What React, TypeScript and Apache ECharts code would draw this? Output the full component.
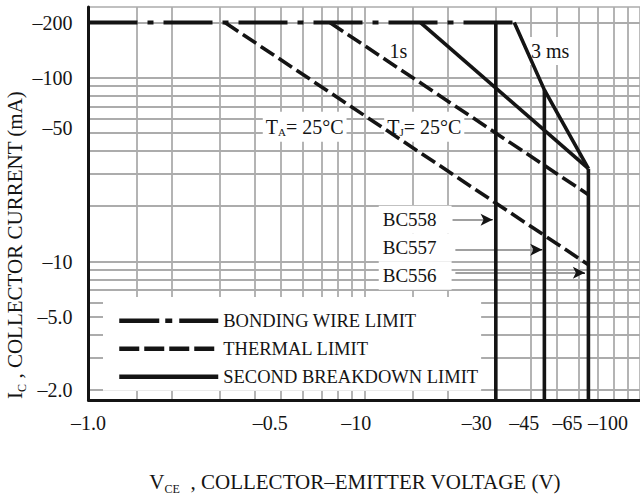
import React, { useEffect, useRef } from 'react';
import * as echarts from 'echarts';

const SERIF = '"Liberation Serif", "Times New Roman", Times, serif';
const INK = '#141414';
const GRID_GRAY = '#acacac';

// Axis extents: |V_CE| in volts, |I_C| in mA (both log scales)
const X_MIN = 1;
const X_MAX = 100;
const Y_MIN = 1.76;
const Y_MAX = 243;

const X_TICKS = [1, 5, 10, 30, 45, 65, 100];
const X_TICK_LABELS = ['–1.0', '–0.5', '–10', '–30', '–45', '–65', '–100'];
const Y_TICKS = [2, 5, 10, 50, 100, 200];
const Y_TICK_LABELS = ['–2.0', '–5.0', '–10', '–50', '–100', '–200'];

const GRID_X = [1.5, 2, 3, 4, 5, 6, 7, 8, 9, 10, 15, 20, 30, 40, 50, 60, 70, 80, 90];
const GRID_Y = [2, 3, 4, 5, 6, 7, 8, 9, 10, 20, 30, 40, 50, 60, 70, 80, 90, 100, 200];

// Limit curves, [volts, mA]
const BONDING_WIRE = [[1, 200], [35, 200]];
const THERMAL_TA = [[3.125, 200], [65, 9.6]];
const THERMAL_TJ = [[7.5, 200], [65, 23.1]];
const BREAKDOWN_1S = [[16, 200], [65, 32]];
const BREAKDOWN_3MS = [[35, 200], [45, 86], [65, 32]];
const BC558_EDGE = [[30, 200], [30, Y_MIN]];
const BC557_EDGE = [[45, 86], [45, Y_MIN]];
const BC556_EDGE = [[65, 32], [65, Y_MIN]];

// Annotation anchors, [volts, mA]
const CURVE_NOTES = [
  { text: '1s', at: [13.3, 140] },
  { text: '3 ms', at: [47.2, 140] },
  { text: '{a|T}{s|A}{a|= 25°C}', at: [6.08, 54.1] },
  { text: '{a|T}{s|J}{a|= 25°C}', at: [16.5, 54.1] },
];
const DEVICE_NAMES = ['BC558', 'BC557', 'BC556'];
const DEVICE_NAME_AT = [[15.3, 16.9], [15.3, 11.9], [15.3, 8.36]];
const DEVICE_ARROWS = [
  { from: [20.9, 16.9], to: [29.2, 16.9] },
  { from: [21.4, 11.6], to: [44.2, 11.6] },
  { from: [21.4, 8.68], to: [63.1, 8.68] },
];

const NAME_BONDING = 'BONDING WIRE LIMIT';
const NAME_THERMAL = 'THERMAL LIMIT';
const NAME_BREAKDOWN = 'SECOND BREAKDOWN LIMIT';

const DASH_DOT = [49, 10, 6, 10];
const DASHED = [16, 5.5];

// leftward nudge (px) of each x tick label
const X_LABEL_SHIFT = [0, 11, 8, 19, 20, 21, 32];

const nearestIndex = (arr: number[], v: number) => {
  let best = 0;
  let d = Infinity;
  arr.forEach((a, i) => {
    const dd = Math.abs(Math.log(a) - Math.log(v));
    if (dd < d) {
      d = dd;
      best = i;
    }
  });
  return best;
};

const limitLine = (name: string, data: number[][], type: any, width = 3.6) => ({
  type: 'line',
  name,
  data,
  symbol: 'none',
  z: 3,
  silent: true,
  emphasis: { disabled: true },
  itemStyle: { color: INK },
  lineStyle: { color: INK, width, type, cap: 'butt' },
});

export default function App() {
  const ref = useRef<HTMLDivElement>(null);

  useEffect(() => {
    document.body.style.margin = '0';
    if (!ref.current) return;
    const chart = echarts.init(ref.current, undefined, { renderer: 'svg' });

    const xRich: Record<string, any> = {};
    X_TICKS.forEach((_, i) => {
      xRich['t' + i] = {
        fontSize: 20,
        fontFamily: SERIF,
        color: INK,
        padding: [0, X_LABEL_SHIFT[i] * 2, 0, 0],
      };
    });

    const noteRich = {
      a: { fontSize: 20, fontFamily: SERIF, color: INK, lineHeight: 22 },
      s: { fontSize: 11, fontFamily: SERIF, color: INK, lineHeight: 11, verticalAlign: 'bottom' },
    };

    const titleRich = {
      a: { fontSize: 21, fontFamily: SERIF, fill: INK, lineHeight: 25 },
      s: { fontSize: 12, fontFamily: SERIF, fill: INK, lineHeight: 12, verticalAlign: 'bottom' },
    };

    const option: any = {
      animation: false,
      backgroundColor: '#ffffff',
      grid: {
        left: 88.5,
        top: 7,
        width: 555,
        height: 393.1,
        show: true,
        borderColor: GRID_GRAY,
        borderWidth: 1.6,
        backgroundColor: 'transparent',
      },
      xAxis: {
        type: 'log',
        logBase: 10,
        min: X_MIN,
        max: X_MAX,
        z: 10,
        axisLine: { show: true, onZero: false, lineStyle: { color: INK, width: 3 } },
        axisTick: { show: false },
        splitLine: { show: false },
        minorTick: { show: false },
        minorSplitLine: { show: false },
        axisLabel: {
          customValues: X_TICKS,
          margin: 13,
          formatter: (v: number) => {
            const i = nearestIndex(X_TICKS, v);
            return `{t${i}|${X_TICK_LABELS[i]}}`;
          },
          rich: xRich,
        },
      },
      yAxis: {
        type: 'log',
        logBase: 10,
        min: Y_MIN,
        max: Y_MAX,
        z: 10,
        axisLine: { show: true, onZero: false, lineStyle: { color: INK, width: 3 } },
        axisTick: { show: false },
        splitLine: { show: false },
        minorTick: { show: false },
        minorSplitLine: { show: false },
        axisLabel: {
          customValues: Y_TICKS,
          margin: 16,
          formatter: (v: number) => {
            const i = nearestIndex(Y_TICKS, v);
            return `{${Y_TICKS[i] === 50 ? 'up' : 'n'}|${Y_TICK_LABELS[i]}}`;
          },
          rich: {
            n: { fontSize: 20, fontFamily: SERIF, color: INK },
            up: { fontSize: 20, fontFamily: SERIF, color: INK, padding: [0, 0, 10, 0] },
          },
        },
      },
      legend: {
        orient: 'vertical',
        left: 103,
        top: 297,
        z: 6,
        padding: [13.7, 3, 4, 14],
        backgroundColor: '#ffffff',
        itemWidth: 99,
        itemHeight: 14,
        itemGap: 8,
        selectedMode: false,
        itemStyle: { opacity: 0 },
        lineStyle: { width: 4.5, color: INK },
        textStyle: { fontSize: 18.5, fontFamily: SERIF, color: INK, lineHeight: 20 },
        data: [
          { name: NAME_BONDING, lineStyle: { width: 4.5, color: INK, type: [40, 6, 7, 7] } },
          { name: NAME_THERMAL, lineStyle: { width: 4.5, color: INK, type: [20, 5] } },
          { name: NAME_BREAKDOWN, lineStyle: { width: 4.5, color: INK, type: 'solid' } },
        ],
      },
      graphic: [
        {
          type: 'text',
          x: 355,
          y: 482,
          style: {
            text: '{a|V}{s|CE}{a|  , COLLECTOR–EMITTER VOLTAGE (V)}',
            align: 'center',
            verticalAlign: 'middle',
            rich: titleRich,
          },
        },
        {
          type: 'text',
          x: 15,
          y: 245,
          rotation: Math.PI / 2,
          style: {
            text: '{a|I}{s|C}{a| , COLLECTOR CURRENT (mA)}',
            align: 'center',
            verticalAlign: 'middle',
            rich: titleRich,
          },
        },
      ],
      series: [
        // background grid
        {
          type: 'line',
          name: 'grid',
          data: [],
          z: 1,
          silent: true,
          markLine: {
            z: 1,
            silent: true,
            symbol: 'none',
            animation: false,
            label: { show: false },
            emphasis: { disabled: true },
            lineStyle: { color: GRID_GRAY, width: 1.8, type: 'solid' },
            data: [
              ...GRID_X.map((v) => ({ xAxis: v })),
              ...GRID_Y.map((v) => ({ yAxis: v })),
            ],
          },
        },
        // text annotations on white boxes
        {
          type: 'scatter',
          name: 'notes',
          z: 2,
          silent: true,
          symbolSize: 1,
          itemStyle: { color: 'rgba(0,0,0,0)', opacity: 1 },
          label: {
            show: true,
            position: 'inside',
            color: INK,
            fontFamily: SERIF,
            fontSize: 20,
            backgroundColor: '#ffffff',
            padding: [4, 3, 4, 3],
          },
          data: [
            ...CURVE_NOTES.map((n) => ({
              value: n.at,
              label: { formatter: n.text, rich: noteRich },
            })),
            ...DEVICE_NAMES.map((name, i) => ({
              value: DEVICE_NAME_AT[i],
              label: { formatter: name, fontSize: 19, padding: [4.5, 15, 4.5, 4] },
            })),
          ],
        },
        // pointer lines to the voltage edges
        {
          type: 'line',
          name: 'pointers',
          data: [],
          z: 2,
          silent: true,
          markLine: {
            z: 2,
            silent: true,
            symbol: 'none',
            animation: false,
            label: { show: false },
            emphasis: { disabled: true },
            lineStyle: { color: '#a0a0a0', width: 2, type: 'solid' },
            data: DEVICE_ARROWS.map((a) => [{ coord: a.from }, { coord: a.to }]),
          },
        },
        {
          type: 'line',
          name: 'pointer-heads',
          data: [],
          z: 4,
          silent: true,
          markLine: {
            z: 4,
            silent: true,
            symbol: ['none', 'arrow'],
            symbolSize: [9, 12],
            animation: false,
            label: { show: false },
            emphasis: { disabled: true },
            lineStyle: { color: INK, width: 1, type: 'solid' },
            data: DEVICE_ARROWS.map((a) => [
              { coord: [a.to[0] * 0.93, a.to[1]] },
              { coord: a.to },
            ]),
          },
        },
        limitLine(NAME_BONDING, BONDING_WIRE, DASH_DOT, 4),
        limitLine(NAME_THERMAL, THERMAL_TA, DASHED),
        limitLine(NAME_THERMAL, THERMAL_TJ, DASHED),
        limitLine(NAME_BREAKDOWN, BREAKDOWN_1S, 'solid'),
        limitLine(NAME_BREAKDOWN, BREAKDOWN_3MS, 'solid'),
        limitLine(NAME_BREAKDOWN, BC558_EDGE, 'solid'),
        limitLine(NAME_BREAKDOWN, BC557_EDGE, 'solid'),
        limitLine(NAME_BREAKDOWN, BC556_EDGE, 'solid'),
      ],
    };

    chart.setOption(option);
    return () => chart.dispose();
  }, []);

  return (
    <div
      ref={ref}
      style={{ position: 'absolute', left: 0, top: 0, width: 640, height: 498 }}
    />
  );
}
